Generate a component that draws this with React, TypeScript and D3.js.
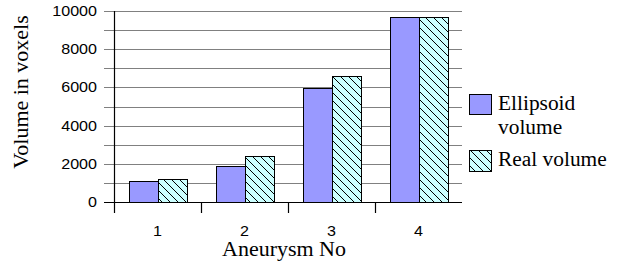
import * as d3 from 'd3';

const categories = ['1', '2', '3', '4'];
const seriesNames = ['Ellipsoid volume', 'Real volume'];
const ellipsoidVolume = [1100, 1900, 5950, 9700];
const realVolume = [1220, 2410, 6620, 9700];
const yTicks = [0, 2000, 4000, 6000, 8000, 10000];
const yGrid = d3.range(0, 10001, 1000);

const W = 628;
const H = 268;
const plot = { left: 114, right: 462, top: 11, bottom: 202 };

const SANS = 'Liberation Sans';
const SERIF = 'Liberation Serif';

export default function App() {
  const x = d3
    .scaleBand()
    .domain(categories)
    .range([plot.left, plot.right])
    .paddingInner(1 / 3)
    .paddingOuter(1 / 6);
  const step = x.step();
  const bw = x.bandwidth() / 2;
  const y = d3.scaleLinear().domain([0, 10000]).range([plot.bottom, plot.top]);

  const series = [
    { name: seriesNames[0], values: ellipsoidVolume, fill: '#9999ff' },
    { name: seriesNames[1], values: realVolume, fill: 'url(#hatch)' },
  ];

  const legendLines = [
    { text: 'Ellipsoid', y: 110 },
    { text: 'volume', y: 134 },
    { text: seriesNames[1], y: 166 },
  ];

  return (
    <svg width={W} height={H} style={{ position: 'absolute', left: 0, top: 0, background: '#fff' }}>
      <defs>
        <pattern id="hatch" patternUnits="userSpaceOnUse" width={8} height={8}>
          <rect width={8} height={8} fill="#ccffff" />
          <path d="M-2,-2 L10,10 M-2,6 L2,10 M6,-2 L10,2" stroke="#000" strokeWidth={1} />
        </pattern>
      </defs>

      {/* grid */}
      {yGrid.map((v) => (
        <line
          key={v}
          x1={plot.left - 10}
          x2={plot.right}
          y1={Math.round(y(v)) + 0.5}
          y2={Math.round(y(v)) + 0.5}
          stroke={v === 0 ? '#000' : '#808080'}
          strokeWidth={1.2}
        />
      ))}

      {/* axes */}
      <line x1={plot.left + 0.5} x2={plot.left + 0.5} y1={plot.top} y2={plot.bottom + 11} stroke="#000" strokeWidth={1.2} />
      {categories.map((c, i) =>
        i === 0 ? null : (
          <line
            key={c}
            x1={Math.round(plot.left + step * i) + 0.5}
            x2={Math.round(plot.left + step * i) + 0.5}
            y1={plot.bottom}
            y2={plot.bottom + 11}
            stroke="#000"
            strokeWidth={1.2}
          />
        )
      )}

      {/* bars */}
      {series.map((s, si) =>
        s.values.map((v, i) => {
          const x0 = (x(categories[i]) ?? 0) + si * bw;
          return (
            <rect
              key={`${si}-${i}`}
              x={Math.round(x0) + 0.5}
              y={Math.round(y(v)) + 0.5}
              width={Math.round(bw)}
              height={Math.round(y(0) - y(v))}
              fill={s.fill}
              stroke="#000"
              strokeWidth={1}
            />
          );
        })
      )}

      {/* y tick labels */}
      {yTicks.map((t) => (
        <text key={t} transform={`translate(97,${y(t) + 5}) scale(1.15,1)`} textAnchor="end" fontFamily={SANS} fontSize={14}>
          {t}
        </text>
      ))}

      {/* x tick labels */}
      {categories.map((c) => (
        <text
          key={c}
          transform={`translate(${(x(c) ?? 0) + x.bandwidth() / 2},236) scale(1.15,1)`}
          textAnchor="middle"
          fontFamily={SANS}
          fontSize={14}
        >
          {c}
        </text>
      ))}

      {/* axis titles */}
      <text transform="translate(284,256) scale(1.1,1)" textAnchor="middle" fontFamily={SERIF} fontSize={20}>
        Aneurysm No
      </text>
      <text transform="translate(28,92) rotate(-90) scale(1.1,1)" textAnchor="middle" fontFamily={SERIF} fontSize={20}>
        Volume in voxels
      </text>

      {/* legend */}
      <rect x={469.5} y={94.5} width={22} height={20} fill="#9999ff" stroke="#000" />
      <rect x={469.5} y={150.5} width={22} height={21} fill="url(#hatch)" stroke="#000" />
      {legendLines.map((l) => (
        <text key={l.text} transform={`translate(498,${l.y}) scale(1.07,1)`} fontFamily={SERIF} fontSize={20}>
          {l.text}
        </text>
      ))}
    </svg>
  );
}
